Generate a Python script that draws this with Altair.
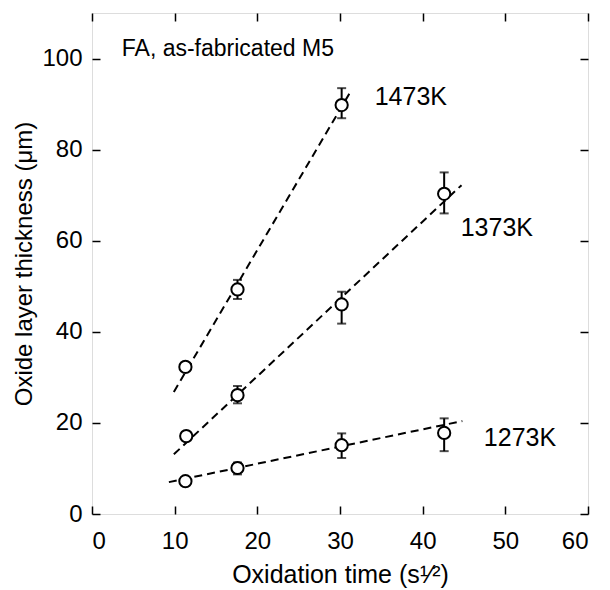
import altair as alt
import pandas as pd

# ---- data ----
series_1473 = "1473K"
x_1473 = [11.3, 17.6, 30.2]
y_1473 = [32.3, 49.3, 89.8]
lo_1473 = [31.6, 47.2, 86.9]
hi_1473 = [33.0, 51.4, 93.5]

series_1373 = "1373K"
x_1373 = [11.4, 17.6, 30.2, 42.6]
y_1373 = [17.1, 26.1, 46.0, 70.3]
lo_1373 = [16.5, 24.3, 41.8, 66.0]
hi_1373 = [17.7, 28.1, 48.8, 75.0]

series_1273 = "1273K"
x_1273 = [11.3, 17.6, 30.2, 42.6]
y_1273 = [7.2, 10.1, 15.1, 17.8]
lo_1273 = [6.8, 8.7, 12.3, 13.8]
hi_1273 = [7.6, 11.3, 17.7, 21.0]

# fitted dashed lines (end points)
fit_series = ["1473K", "1473K", "1373K", "1373K", "1273K", "1273K"]
fit_x = [9.9, 31.2, 9.9, 44.7, 9.3, 44.8]
fit_y = [26.8, 92.5, 13.1, 72.2, 7.0, 20.4]

label_text = ["1473K", "1373K", "1273K"]
label_x = [34.2, 44.6, 47.4]
label_y = [91.6, 62.9, 16.6]

note_text = ["FA, as-fabricated M5"]
note_x = [3.6]
note_y = [102.1]

x_ticks = [0, 10, 20, 30, 40, 50, 60]
y_ticks = [0, 20, 40, 60, 80, 100]
x_domain = [0, 60]
y_domain = [0, 110]

# ---- tables ----
pts = pd.DataFrame({
    "series": [series_1473] * 3 + [series_1373] * 4 + [series_1273] * 4,
    "x": x_1473 + x_1373 + x_1273,
    "y": y_1473 + y_1373 + y_1273,
    "lo": lo_1473 + lo_1373 + lo_1273,
    "hi": hi_1473 + hi_1373 + hi_1273,
})
fit = pd.DataFrame({"series": fit_series, "x": fit_x, "y": fit_y})
labels = pd.DataFrame({"text": label_text, "x": label_x, "y": label_y})
note = pd.DataFrame({"text": note_text, "x": note_x, "y": note_y})

FONT = "Liberation Sans"
xs = alt.Scale(domain=x_domain, nice=False, zero=False)
ys = alt.Scale(domain=y_domain, nice=False, zero=False)

tick_common = dict(labels=False, domain=False, grid=False, ticks=True,
                   tickSize=8, tickWidth=1.5, tickColor="black", title=None, offset=-8)

x_main = alt.Axis(orient="bottom", values=x_ticks, ticks=False, domain=False, grid=False,
                  labelFontSize=24, labelFont=FONT, labelColor="black", labelPadding=15,
                  title="Oxidation time (s¹⁄²)", titleFontSize=25, titleFont=FONT,
                  titleFontWeight="normal", titleColor="black", titlePadding=9)
y_main = alt.Axis(orient="left", values=y_ticks, ticks=False, domain=False, grid=False,
                  labelFontSize=24, labelFont=FONT, labelColor="black", labelPadding=10,
                  title="Oxide layer thickness (μm)", titleFontSize=24, titleFont=FONT,
                  titleFontWeight="normal", titleColor="black", titlePadding=5)
x_bot = alt.Axis(orient="bottom", values=x_ticks, **tick_common)
y_left = alt.Axis(orient="left", values=y_ticks, **tick_common)
x_top = alt.Axis(orient="top", values=x_ticks, **tick_common)
y_right = alt.Axis(orient="right", values=y_ticks, **tick_common)

lines = alt.Chart(fit).mark_line(color="black", strokeWidth=2, strokeDash=[8, 5]).encode(
    x=alt.X("x:Q", scale=xs, axis=x_main),
    y=alt.Y("y:Q", scale=ys, axis=y_main),
    detail="series:N",
)

bars = alt.Chart(pts).mark_rule(color="black", strokeWidth=2).encode(
    x=alt.X("x:Q", scale=xs, axis=x_bot),
    y=alt.Y("lo:Q", scale=ys, axis=y_left),
    y2="hi:Q",
)

caps_lo = alt.Chart(pts).mark_tick(color="black", orient="horizontal", size=9, thickness=2).encode(
    x=alt.X("x:Q", scale=xs, axis=x_top),
    y=alt.Y("lo:Q", scale=ys, axis=y_right),
)
caps_hi = alt.Chart(pts).mark_tick(color="black", orient="horizontal", size=9, thickness=2).encode(
    x=alt.X("x:Q", scale=xs, axis=None),
    y=alt.Y("hi:Q", scale=ys, axis=None),
)

points = alt.Chart(pts).mark_point(shape="circle", filled=True, fill="white", stroke="black",
                                   strokeWidth=2, size=150, opacity=1).encode(
    x=alt.X("x:Q", scale=xs, axis=None),
    y=alt.Y("y:Q", scale=ys, axis=None),
)

series_labels = alt.Chart(labels).mark_text(align="left", baseline="middle", font=FONT,
                                            fontSize=25, color="black").encode(
    x=alt.X("x:Q", scale=xs, axis=None),
    y=alt.Y("y:Q", scale=ys, axis=None),
    text="text:N",
)

note_label = alt.Chart(note).mark_text(align="left", baseline="middle", font=FONT,
                                       fontSize=23, color="black").encode(
    x=alt.X("x:Q", scale=xs, axis=None),
    y=alt.Y("y:Q", scale=ys, axis=None),
    text="text:N",
)

chart = alt.layer(lines, bars, caps_lo, caps_hi, points, series_labels, note_label).resolve_axis(
    x="independent", y="independent"
).properties(
    width=496, height=501,
    autosize=alt.AutoSizeParams(type="none"),
    padding={"left": 84, "top": 5, "right": 14, "bottom": 76},
).configure_view(stroke="black", strokeWidth=2).configure(background="white")

chart.save("out.html", embed_options={"renderer": "svg", "actions": False})
